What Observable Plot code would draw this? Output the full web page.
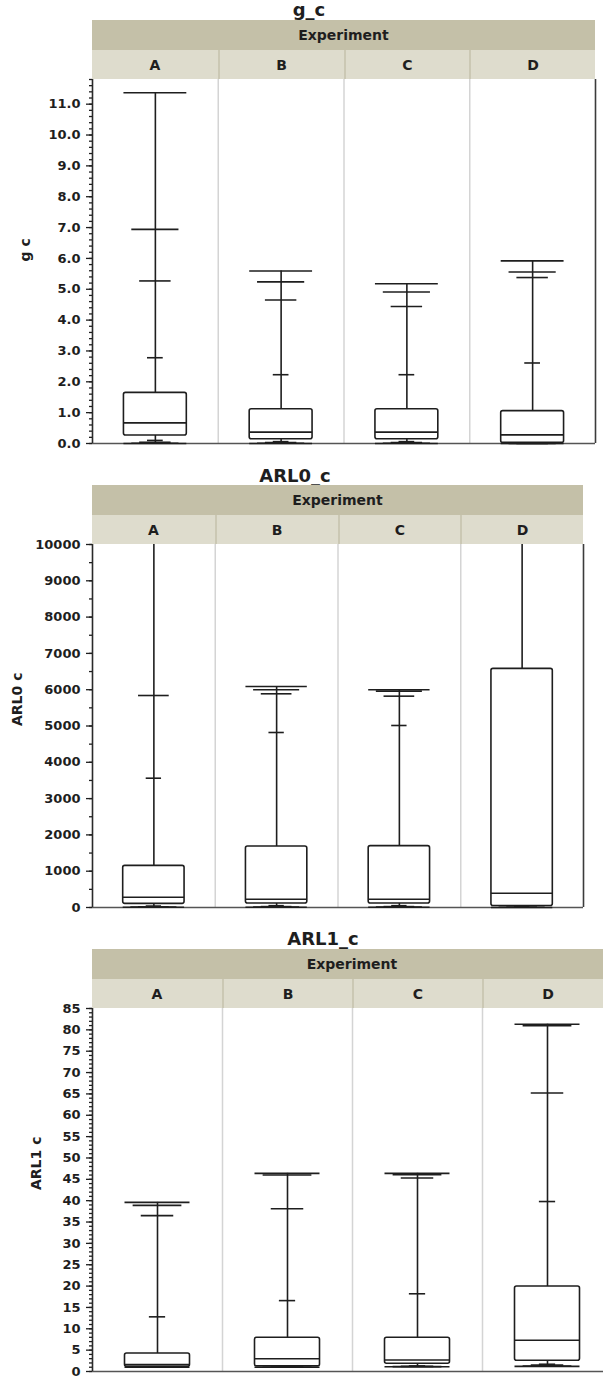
<!DOCTYPE html>
<html>
<head>
<meta charset="utf-8">
<script src="https://cdn.jsdelivr.net/npm/d3@7"></script>
<script src="https://cdn.jsdelivr.net/npm/@observablehq/plot@0.6"></script>
<style>
  body { margin: 0; background: #fff; }
  #page { position: relative; width: 603px; height: 1376px; overflow: hidden;
          font-family: "DejaVu Sans", sans-serif; font-weight: bold; color: #1e1e1e; }
  .panel { position: absolute; left: 0; }
  .panel svg { display: block; }
  .title { position: absolute; font-size: 18px; line-height: 18px; white-space: nowrap;
           transform: translateX(-50%); }
  .band { position: absolute; background: #c4c0a8; font-size: 14px; display: flex;
          align-items: center; justify-content: center; }
  .cells { position: absolute; display: flex; }
  .cell { background: #dedccd; font-size: 14px; display: flex; align-items: center;
          justify-content: center; box-sizing: border-box; }
  .cell + .cell { border-left: 2px solid #cbc8b4; }
</style>
</head>
<body>
<div id="page"></div>
<script>
// Experiments shown as columns in every panel
const experiments = ["A", "B", "C", "D"];
// Quantile levels (%) stored in each row below, low to high
const quantileLevels = [0, 0.5, 2.5, 10, 25, 50, 75, 90, 97.5, 99.5, 100];

// g_c quantiles per experiment (A, B, C, D)
const gcQuantiles = [
  [0.00, 0.01, 0.04, 0.10, 0.26, 0.67, 1.64, 2.78, 5.27, 6.94, 11.37],
  [0.00, 0.01, 0.03, 0.06, 0.14, 0.37, 1.11, 2.23, 4.65, 5.24, 5.59],
  [0.00, 0.01, 0.03, 0.06, 0.14, 0.37, 1.11, 2.23, 4.44, 4.91, 5.18],
  [0.00, 0.00, 0.00, 0.01, 0.02, 0.28, 1.05, 2.61, 5.38, 5.56, 5.92]
];
// ARL0_c quantiles; null = beyond the top of the axis
const arl0Quantiles = [
  [5, 10, 20, 40, 101, 284, 1148, 3562, 5840, null, null],
  [5, 10, 25, 50, 110, 229, 1680, 4821, 5887, 5997, 6088],
  [5, 10, 25, 50, 110, 229, 1690, 5014, 5822, 5960, 5997],
  [0, 5, 10, 20, 40, 394, 6575, null, null, null, null]
];
// ARL1_c quantiles
const arl1Quantiles = [
  [1.0, 1.0, 1.0, 1.05, 1.1, 1.6, 4.2, 12.8, 36.5, 38.9, 39.6],
  [1.0, 1.0, 1.05, 1.1, 1.2, 3.0, 7.9, 16.6, 38.1, 46.0, 46.4],
  [1.1, 1.15, 1.2, 1.3, 1.8, 2.7, 7.9, 18.2, 45.3, 46.1, 46.4],
  [1.2, 1.3, 1.5, 1.7, 2.5, 7.3, 19.9, 39.8, 65.2, 81.0, 81.3]
];

// Axis tick values
const gcTicks = [0, 1, 2, 3, 4, 5, 6, 7, 8, 9, 10, 11];
const arl0Ticks = [0, 1000, 2000, 3000, 4000, 5000, 6000, 7000, 8000, 9000, 10000];
const arl1Ticks = [0, 5, 10, 15, 20, 25, 30, 35, 40, 45, 50, 55, 60, 65, 70, 75, 80, 85];

const panels = [
  { title: "g_c", yLabel: "g c", values: gcQuantiles, ticks: gcTicks, minorStep: 0.2,
    domain: [0, 11.8], format: d3.format(".1f"),
    top: 0, width: 603, height: 452, marginTop: 79, marginBottom: 9, marginRight: 8,
    titleX: 309, titleTop: 1, labelDx: -67 },
  { title: "ARL0_c", yLabel: "ARL0 c", values: arl0Quantiles, ticks: arl0Ticks, minorStep: 500,
    domain: [0, 10000], format: d3.format("d"),
    top: 460, width: 603, height: 455, marginTop: 84, marginBottom: 8, marginRight: 20,
    titleX: 295, titleTop: 7, labelDx: -74.5 },
  { title: "ARL1_c", yLabel: "ARL1 c", values: arl1Quantiles, ticks: arl1Ticks, minorStep: 1,
    domain: [0, 85], format: d3.format("d"),
    top: 915, width: 615, height: 461, marginTop: 93, marginBottom: 5, marginRight: 3,
    titleX: 323, titleTop: 15, labelDx: -55.5 }
];

const marginLeft = 92;
const ink = "#1e1e1e";

function quantilePlot(cfg) {
  const bw = (cfg.width - marginLeft - cfg.marginRight) / experiments.length;
  const yTop = cfg.domain[1];
  const rows = experiments.map((experiment, i) => {
    const q = cfg.values[i];
    return { experiment, min: q[0], p005: q[1], p025: q[2], p10: q[3], p25: q[4], p50: q[5],
             p75: q[6], p90: q[7], p975: q[8], p995: q[9], max: q[10] };
  });
  const minor = d3.range(cfg.domain[0], yTop + cfg.minorStep / 2, cfg.minorStep);
  // horizontal quantile tick; frac = tick width as a share of the column
  const qtick = (y, frac) => Plot.tickY(rows, {
    x: "experiment", y, stroke: ink, strokeWidth: 1.6,
    insetLeft: bw * (1 - frac) / 2, insetRight: bw * (1 - frac) / 2
  });
  return Plot.plot({
    width: cfg.width, height: cfg.height,
    marginTop: cfg.marginTop, marginBottom: cfg.marginBottom,
    marginLeft, marginRight: cfg.marginRight,
    style: { fontFamily: "'DejaVu Sans', sans-serif", fontSize: "13px", fontWeight: "bold",
             color: ink, background: "transparent", maxWidth: "none", overflow: "visible" },
    x: { type: "band", domain: experiments, padding: 0, round: false, axis: null },
    y: { domain: cfg.domain },
    marks: [
      // column separators and frame
      Plot.ruleX(experiments.slice(1), { x: d => d, dx: -bw / 2, stroke: "#d4d4d4", strokeWidth: 1.5 }),
      Plot.ruleX(["D"], { x: d => d, dx: bw / 2, stroke: "#3c3c3c", strokeWidth: 1.6 }),
      Plot.ruleY([0], { stroke: "#555", strokeWidth: 1.6 }),
      Plot.ruleX(["A"], { x: d => d, dx: -bw / 2, stroke: "#2a2a2a", strokeWidth: 1.6 }),
      Plot.axisY({ ticks: minor, tickSize: 3, tickFormat: () => "", strokeWidth: 1.3 }),
      Plot.axisY({ ticks: cfg.ticks, tickSize: 6, tickPadding: 6, tickFormat: cfg.format,
                   strokeWidth: 1.3, label: null }),
      // whiskers
      Plot.ruleX(rows, { x: "experiment", y1: "p75", y2: d => d.max ?? yTop, stroke: ink, strokeWidth: 1.6 }),
      Plot.ruleX(rows, { x: "experiment", y1: "min", y2: "p25", stroke: ink, strokeWidth: 1.6 }),
      // interquartile box
      Plot.barY(rows, { x: "experiment", y1: "p25", y2: "p75", fill: "white", stroke: ink,
                        strokeWidth: 1.6, insetLeft: bw / 4, insetRight: bw / 4, rx: 2 }),
      qtick("p50", 0.5),
      qtick("max", 0.5), qtick("min", 0.5),
      qtick("p995", 0.375), qtick("p005", 0.375),
      qtick("p975", 0.25), qtick("p025", 0.25),
      qtick("p90", 0.125), qtick("p10", 0.125),
      Plot.text([cfg.yLabel], { frameAnchor: "left", dx: cfg.labelDx, rotate: -90, fontSize: 14 })
    ]
  });
}

const page = d3.select("#page");
for (const cfg of panels) {
  const bw = (cfg.width - marginLeft - cfg.marginRight) / experiments.length;
  const panel = page.append("div").attr("class", "panel").style("top", cfg.top + "px");
  panel.node().appendChild(quantilePlot(cfg));
  panel.append("div").attr("class", "title")
    .style("left", cfg.titleX + "px").style("top", cfg.titleTop + "px").text(cfg.title);
  panel.append("div").attr("class", "band")
    .style("left", marginLeft + "px").style("top", (cfg.marginTop - 59) + "px")
    .style("width", (bw * 4) + "px").style("height", "30px").text("Experiment");
  panel.append("div").attr("class", "cells")
    .style("left", marginLeft + "px").style("top", (cfg.marginTop - 29) + "px")
    .selectAll("div").data(experiments).join("div").attr("class", "cell")
    .style("width", bw + "px").style("height", "29px").text(d => d);
}
</script>
</body>
</html>
